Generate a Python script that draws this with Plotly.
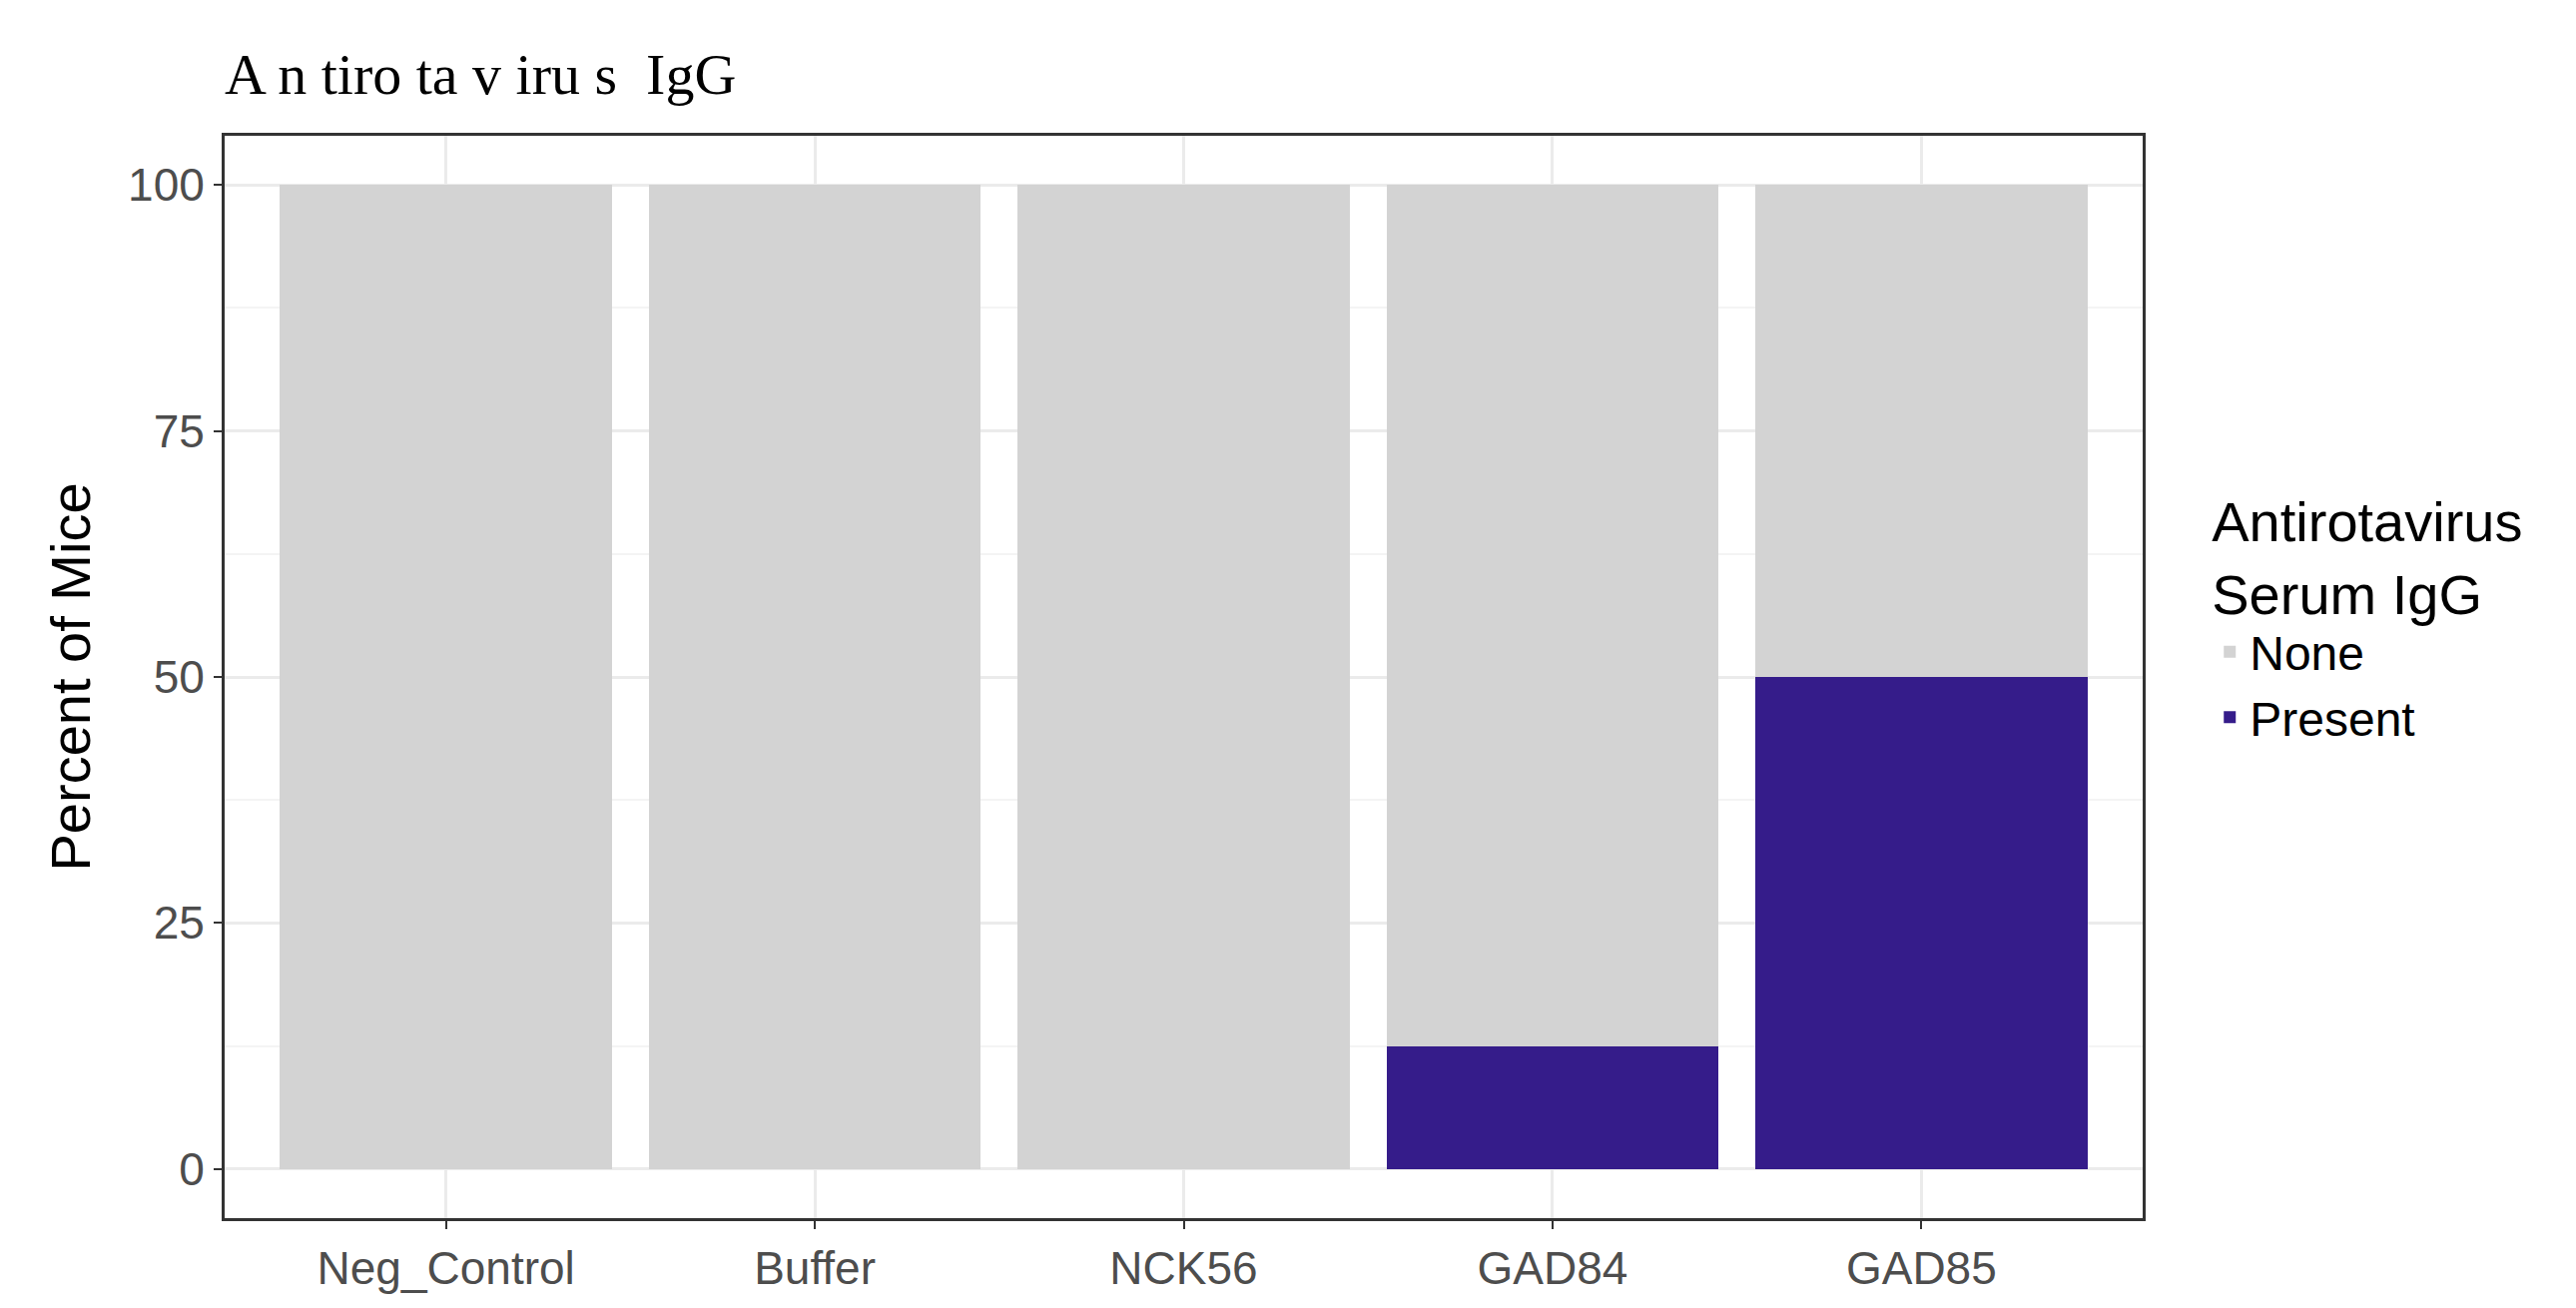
import plotly.graph_objects as go

groups = ["Neg_Control", "Buffer", "NCK56", "GAD84", "GAD85"]
present = [0, 0, 0, 12.5, 50]
none = [100, 100, 100, 87.5, 50]

fig = go.Figure()
fig.add_bar(x=groups, y=present, name="Present", marker=dict(color="#351c8a", line=dict(width=0)), width=0.9)
fig.add_bar(x=groups, y=none, name="None", marker=dict(color="#d3d3d3", line=dict(width=0)), width=0.9)

axfont = dict(family="Liberation Sans, Arial", size=46, color="#4d4d4d")
fig.update_layout(
    barmode="stack", width=2580, height=1310,
    paper_bgcolor="white", plot_bgcolor="white",
    margin=dict(l=217, r=442, t=128, b=98),
    title=dict(text="A n tiro ta v iru s  IgG", x=217/2580, xanchor="left", y=1-66/1310, yanchor="middle",
               font=dict(family="Liberation Serif", size=58, color="black")),
    legend=dict(title=dict(text="Antirotavirus<br>Serum IgG", font=dict(size=56, color="black")),
                font=dict(family="Liberation Sans, Arial", size=48, color="black"),
                traceorder="reversed", x=1.035, xanchor="left", y=0.56, yanchor="middle",
                itemsizing="constant", tracegroupgap=0),
    font=dict(family="Liberation Sans, Arial"),
    bargap=0.1,
)
fig.update_xaxes(range=[-0.6, 4.6], showgrid=True, gridcolor="#ebebeb", gridwidth=3,
                 ticks="outside", ticklen=8, tickcolor="#333", tickwidth=2, tickfont=axfont,
                 showline=True, linecolor="#333", linewidth=3, mirror=True)
fig.update_yaxes(range=[-5, 105], tickvals=[0, 25, 50, 75, 100], showgrid=True, gridcolor="#ebebeb", gridwidth=3,
                 minor=dict(tickvals=[12.5, 37.5, 62.5, 87.5], showgrid=True, gridcolor="#f4f4f4", gridwidth=2),
                 zeroline=False, ticks="outside", ticklen=8, tickcolor="#333", tickwidth=2, tickfont=axfont,
                 showline=True, linecolor="#333", linewidth=3, mirror=True,
                 title=dict(text="Percent of Mice", font=dict(size=56, color="black"), standoff=20))
fig.write_html("out.html")
